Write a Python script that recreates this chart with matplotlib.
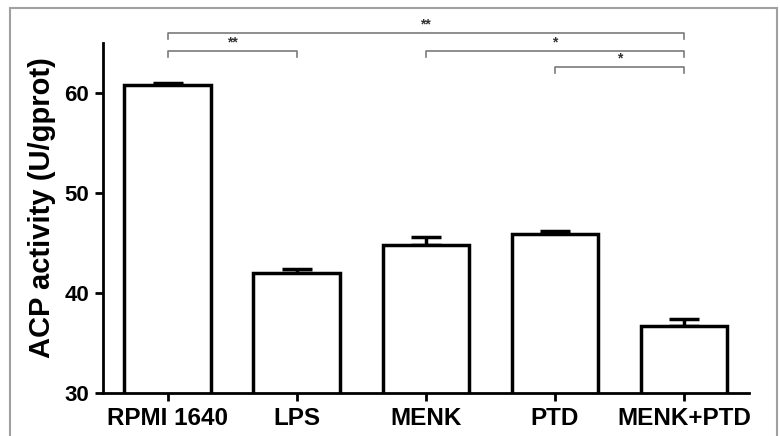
import matplotlib.pyplot as plt
from matplotlib.patches import Rectangle

plt.rcParams['font.family'] = ['Liberation Sans', 'DejaVu Sans']

groups = ['RPMI 1640', 'LPS', 'MENK', 'PTD', 'MENK+PTD']
acp_mean = [60.8, 42.0, 44.8, 45.9, 36.7]
acp_err = [0.2, 0.4, 0.8, 0.3, 0.7]

# significance comparisons: (group a, group b, label)
comparisons = [('RPMI 1640', 'MENK+PTD', '**'),
               ('RPMI 1640', 'LPS', '**'),
               ('MENK', 'MENK+PTD', '*'),
               ('PTD', 'MENK+PTD', '*')]
bracket_y = [66.0, 64.2, 64.2, 62.6]

fig = plt.figure(figsize=(7.8, 4.36), dpi=100)
ax = fig.add_axes([0.132, 0.0986, 0.828, 0.849])

x = list(range(len(groups)))
ax.bar(x, acp_mean, width=0.67, color='white', edgecolor='black', linewidth=2.5, zorder=2)
ax.errorbar(x, acp_mean, yerr=[[0] * len(acp_err), acp_err], fmt='none',
            ecolor='black', elinewidth=2.5, capsize=11, capthick=2.5, zorder=1)

ax.set_xlim(-0.5, 4.5)
ax.set_ylim(30, 67)
ax.set_yticks([30, 40, 50, 60])
ax.set_xticks(x)
ax.set_xticklabels(groups, fontsize=17.5, fontweight='bold')
for lab in ax.get_yticklabels():
    lab.set_fontsize(16)
    lab.set_fontweight('bold')
ax.set_ylabel('ACP activity (U/gprot)', fontsize=21, fontweight='bold', labelpad=6)

ax.spines['top'].set_visible(False)
ax.spines['right'].set_visible(False)
ax.spines['left'].set_bounds(30, 65)
ax.spines['left'].set_linewidth(2)
ax.spines['bottom'].set_linewidth(2)
ax.tick_params(axis='both', width=2, length=6, direction='out')
ax.tick_params(axis='x', pad=4)
ax.tick_params(axis='y', pad=4)

for (a, b, lab), y in zip(comparisons, bracket_y):
    xa = groups.index(a)
    xb = groups.index(b)
    ax.plot([xa, xa, xb, xb], [y - 0.6, y, y, y - 0.6], color='#7a7a7a', lw=1.2, clip_on=False)
    ax.text((xa + xb) / 2, y + 0.15, lab, ha='center', va='bottom', fontsize=10,
            fontweight='bold', color='#333333')

fig.patches.append(Rectangle((10 / 780, -0.01), 767 / 780, 1 - 8 / 436 + 0.01,
                             transform=fig.transFigure, fill=False,
                             edgecolor='#a0a0a0', linewidth=1.5))

fig.savefig('out.png', dpi=100)
